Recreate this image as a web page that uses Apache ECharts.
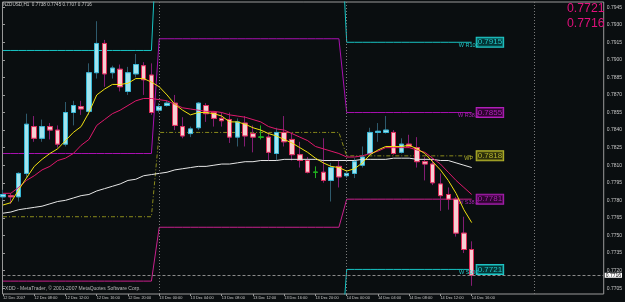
<!DOCTYPE html>
<html><head><meta charset="utf-8">
<script src="https://cdn.jsdelivr.net/npm/echarts@6/dist/echarts.min.js"></script>
<style>html,body{margin:0;padding:0;background:#0a0e10;}#c{width:625px;height:302px;}</style>
</head><body><div id="c"></div>
<script>
const symbolName = 'NZDUSD,H1';
const askPrice = 0.7721;
const bidPrice = 0.7716;
const footerText = 'FXDD - MetaTrader, \u00a9 2001-2007 MetaQuotes Software Corp.';

const timeLabelIdx = [0,4,8,12,16,20,24,28,32,36,40,44,48,52,56,60];
const timeLabels = ['12 Dec 2007','12 Dec 08:00','12 Dec 12:00','12 Dec 16:00','12 Dec 20:00',
  '13 Dec 00:00','13 Dec 04:00','13 Dec 08:00','13 Dec 12:00','13 Dec 16:00','13 Dec 20:00',
  '14 Dec 00:00','14 Dec 04:00','14 Dec 08:00','14 Dec 12:00','14 Dec 16:00'];
const priceTicks = [0.7705,0.7720,0.7735,0.7750,0.7765,0.7780,0.7795,0.7810,0.7825,0.7840,
  0.7855,0.7870,0.7885,0.7900,0.7915,0.7930,0.7945];

const open = [0.7783,0.7784,0.7783,0.7803,0.7843,0.7833,0.7843,0.7840,0.7828,0.7855,
0.7860,0.7856,0.7889,0.7914,0.7889,0.7892,0.7873,0.7888,0.7895,0.7887,
0.7857,0.7861,0.7863,0.7843,0.7837,0.7842,0.7861,0.7855,0.7850,0.7849,
0.7834,0.7846,0.7837,0.7834,0.7834,0.7820,0.7838,0.7832,0.7819,0.7814,
0.7804,0.7804,0.7797,0.7809,0.7801,0.7803,0.7810,0.7820,0.7838,0.7838,
0.7838,0.7821,0.7828,0.7825,0.7813,0.7811,0.7794,0.7785,0.7781,0.7752,
0.7738];
const high = [0.7789,0.7786,0.7804,0.7854,0.7852,0.7849,0.7846,0.7844,0.7864,0.7865,
0.7865,0.7897,0.7933,0.7917,0.7895,0.7896,0.7894,0.7905,0.7898,0.7897,
0.7863,0.7865,0.7870,0.7851,0.7843,0.7864,0.7863,0.7856,0.7855,0.7855,
0.7850,0.7852,0.7844,0.7844,0.7838,0.7842,0.7852,0.7838,0.7830,0.7817,
0.7809,0.7833,0.7812,0.7814,0.7805,0.7816,0.7826,0.7842,0.7846,0.7852,
0.7840,0.7833,0.7836,0.7834,0.7817,0.7816,0.7803,0.7791,0.7783,0.7766,
0.7745];
const low = [0.7780,0.7777,0.7779,0.7799,0.7830,0.7830,0.7832,0.7825,0.7826,0.7844,
0.7853,0.7853,0.7884,0.7877,0.7884,0.7873,0.7870,0.7885,0.7870,0.7853,
0.7855,0.7860,0.7840,0.7833,0.7834,0.7840,0.7847,0.7843,0.7843,0.7829,
0.7826,0.7826,0.7821,0.7832,0.7814,0.7814,0.7826,0.7814,0.7808,0.7803,
0.7799,0.7795,0.7779,0.7791,0.7799,0.7799,0.7808,0.7818,0.7830,0.7837,
0.7819,0.7820,0.7825,0.7808,0.7797,0.7793,0.7771,0.7772,0.7749,0.7735,
0.7707];
const close = [0.7785,0.7783,0.7803,0.7845,0.7833,0.7843,0.7840,0.7828,0.7855,0.7861,
0.7858,0.7889,0.7914,0.7888,0.7893,0.7877,0.7889,0.7896,0.7883,0.7855,
0.7860,0.7863,0.7844,0.7835,0.7841,0.7863,0.7854,0.7850,0.7848,0.7834,
0.7847,0.7835,0.7834,0.7834,0.7821,0.7838,0.7830,0.7819,0.7814,0.7804,
0.7804,0.7797,0.7808,0.7800,0.7803,0.7813,0.7817,0.7838,0.7839,0.7840,
0.7820,0.7828,0.7826,0.7813,0.7811,0.7795,0.7784,0.7781,0.7752,0.7738,
0.7716];

const maFast = [0.7776,0.7778,0.7789,0.7799,0.7809,0.7815,0.7820,0.7824,0.7831,0.7838,
0.7843,0.7855,0.7870,0.7875,0.7879,0.7879,0.7880,0.7884,0.7884,0.7881,
0.7877,0.7870,0.7862,0.7857,0.7853,0.7855,0.7855,0.7854,0.7852,0.7847,
0.7847,0.7845,0.7842,0.7840,0.7837,0.7835,0.7832,0.7829,0.7825,0.7821,
0.7816,0.7812,0.7809,0.7808,0.7805,0.7807,0.7812,0.7819,0.7823,0.7826,
0.7826,0.7826,0.7827,0.7824,0.7820,0.7813,0.7806,0.7797,0.7786,0.7772,
0.7761];
const maMid = [0.7786,0.7786,0.7791,0.7797,0.7801,0.7806,0.7809,0.7814,0.7816,0.7820,
0.7827,0.7832,0.7844,0.7849,0.7854,0.7857,0.7861,0.7865,0.7867,0.7867,
0.7866,0.7865,0.7862,0.7859,0.7858,0.7857,0.7856,0.7856,0.7855,0.7853,
0.7852,0.7851,0.7849,0.7847,0.7843,0.7841,0.7840,0.7837,0.7834,0.7831,
0.7826,0.7824,0.7822,0.7820,0.7817,0.7817,0.7818,0.7820,0.7822,0.7825,
0.7825,0.7825,0.7825,0.7823,0.7821,0.7816,0.7811,0.7804,0.7797,0.7791,
0.7785];
const maSlow = [0.7769,0.7770,0.7772,0.7773,0.7774,0.7775,0.7777,0.7779,0.7780,0.7782,
0.7784,0.7785,0.7788,0.7790,0.7792,0.7794,0.7797,0.7798,0.7801,0.7802,
0.7803,0.7804,0.7806,0.7807,0.7808,0.7809,0.7809,0.7810,0.7811,0.7811,
0.7812,0.7813,0.7813,0.7814,0.7814,0.7814,0.7815,0.7815,0.7815,0.7815,
0.7815,0.7814,0.7814,0.7814,0.7814,0.7814,0.7815,0.7815,0.7815,0.7815,
0.7816,0.7816,0.7816,0.7815,0.7815,0.7815,0.7814,0.7814,0.7812,0.7810,
0.7808];

const dayStart = [0, 20, 44];
const pivotR100 = [0.7908, 0.8047, 0.7915];
const pivotR38  = [0.7820, 0.7918, 0.7855];
const pivotP    = [0.7766, 0.7838, 0.7818];
const pivotS38  = [0.7711, 0.7757, 0.7781];
const pivotS100 = [0.7625, 0.7629, 0.7721];
const separators = [20, 44, 68];

const FONT = 'Liberation Sans';
const X_MIN = -0.064, X_MAX = 76.9, Y_MIN = 0.7700, Y_MAX = 0.79494;
const n = close.length;
function dayOf(i){ let d = 0; for (let k = 0; k < dayStart.length; k++) if (i >= dayStart[k]) d = k; return d; }
function pivotData(arr){ const out = []; for (let i = 0; i < n; i++) out.push([i, arr[dayOf(i)]]); return out; }
const candleData = open.map((o, i) => [i, o, close[i], low[i], high[i]]);
const bodyData = open.map((o, i) => [i, o, close[i], Math.min(o, close[i]), Math.max(o, close[i])]);
const toXY = arr => arr.map((v, i) => [i, v]);

function pivotSeries(arr, name, color, textColor, boxBg, dash){
  return {
    type: 'line', data: pivotData(arr), symbol: 'none', showSymbol: false, silent: true, z: 1,
    lineStyle: { width: 1, color: color, type: dash || 'solid' },
    endLabel: { show: true, distance: 5, formatter: p => p.value[1].toFixed(4),
      color: textColor, fontSize: 8, fontFamily: FONT, borderColor: textColor, borderWidth: 1,
      backgroundColor: boxBg, padding: [1, 1, 0, 1] },
    markPoint: { symbol: 'rect', symbolSize: 0, silent: true,
      label: { show: true, position: 'inside', offset: [-3, 3], formatter: name,
        color: textColor, fontSize: 5.5, fontFamily: FONT },
      data: [{ coord: [n - 1, arr[arr.length - 1]] }] }
  };
}

const chart = echarts.init(document.getElementById('c'), null, { renderer: 'canvas' });
const last = n - 1;
const titleText = symbolName + '  ' + [open[last], high[last], low[last], close[last]].map(v => v.toFixed(4)).join(' ');

const pivotPSeries = pivotSeries(pivotP, 'WP', '#8c8c1c', '#b4b42c', 'rgba(70,70,10,0.6)', [4, 2, 1, 2]);
pivotPSeries.markLine = { symbol: ['none', 'none'], silent: true, animation: false,
  label: { show: false },
  lineStyle: { color: '#7a7a7a', type: [1, 2], width: 1 },
  data: separators.map(s => ({ xAxis: s })) };

const option = {
  backgroundColor: '#0a0e10',
  animation: false,
  grid: { left: 1, right: 19, top: 2, bottom: 8, show: true, borderColor: '#9a9a9a', borderWidth: 1 },
  xAxis: {
    type: 'value', min: X_MIN, max: X_MAX, position: 'bottom',
    axisLine: { show: false },
    splitLine: { show: false },
    axisTick: { show: true, length: 2, customValues: timeLabelIdx, lineStyle: { color: '#9a9a9a' } },
    axisLabel: { customValues: timeLabelIdx, align: 'left', color: '#c8c8c8', fontSize: 3.9,
      fontFamily: FONT, margin: 2,
      formatter: v => { const k = timeLabelIdx.indexOf(Math.round(v)); return k >= 0 ? timeLabels[k] : ''; } }
  },
  yAxis: {
    type: 'value', position: 'right', min: Y_MIN, max: Y_MAX,
    axisLine: { show: false },
    splitLine: { show: false },
    axisTick: { show: true, length: 2, customValues: priceTicks, lineStyle: { color: '#9a9a9a' } },
    axisLabel: { customValues: priceTicks, color: '#c8c8c8', fontSize: 5, fontFamily: FONT, margin: 3,
      formatter: v => v.toFixed(4) }
  },
  graphic: [
    { type: 'text', left: 3, top: 2, silent: true, style: { text: titleText, fill: '#c8c8c8', font: '4.6px "Liberation Sans"' } },
    { type: 'text', left: 2, top: 286, silent: true, style: { text: footerText, fill: '#b8b8b8', font: '5px "Liberation Sans"' } },
    { type: 'text', left: 567, top: 3, silent: true, style: { text: askPrice.toFixed(4), fill: '#e0107c', font: '12.3px "Liberation Sans"' } },
    { type: 'text', left: 567, top: 18, silent: true, style: { text: bidPrice.toFixed(4), fill: '#e0107c', font: '12.3px "Liberation Sans"' } }
  ],
  series: [
    pivotSeries(pivotR100, 'W R100', '#18c4c4', '#20c8c8', 'rgba(0,80,80,0.6)'),
    pivotSeries(pivotR38, 'W R38.2', '#a810b0', '#b020b8', 'rgba(70,0,70,0.6)'),
    pivotPSeries,
    pivotSeries(pivotS38, 'W S38.2', '#c8208c', '#a820b0', 'rgba(70,0,70,0.6)'),
    pivotSeries(pivotS100, 'W S100', '#18c4c4', '#20c8c8', 'rgba(0,80,80,0.6)'),
    {
      type: 'candlestick', data: candleData, barWidth: 5, z: 2, silent: true,
      itemStyle: { color: '#a2e4ee', color0: '#f6cdd2', borderColor: '#2e5a6c', borderColor0: '#841c72',
        borderColorDoji: '#20b020', borderWidth: 1 }
    },
    {
      type: 'candlestick', data: bodyData, barWidth: 5, z: 3, silent: true,
      itemStyle: { color: '#a2e4ee', color0: '#f6cdd2', borderColor: '#36b8d8', borderColor0: '#e02c58',
        borderColorDoji: '#20b020', borderWidth: 1 }
    },
    { type: 'line', data: toXY(maSlow), symbol: 'none', showSymbol: false, silent: true, z: 4,
      lineStyle: { width: 1, color: '#e6e6e6' },
      markLine: { symbol: ['none', 'none'], silent: true,
        lineStyle: { color: '#8a8a8a', type: [3, 2], width: 1 },
        label: { show: true, position: 'end', distance: 1, formatter: bidPrice.toFixed(4),
          color: '#000', backgroundColor: '#ffffff', fontSize: 5, fontFamily: FONT, padding: [0, 1] },
        data: [[{ coord: [X_MIN, bidPrice] }, { coord: [X_MAX, bidPrice] }]] } },
    { type: 'line', data: toXY(maMid), symbol: 'none', showSymbol: false, silent: true, z: 4,
      lineStyle: { width: 1, color: '#e0186c' } },
    { type: 'line', data: toXY(maFast), symbol: 'none', showSymbol: false, silent: true, z: 5,
      lineStyle: { width: 1, color: '#f0e010' } }
  ]
};
chart.setOption(option);
</script>
</body></html>
